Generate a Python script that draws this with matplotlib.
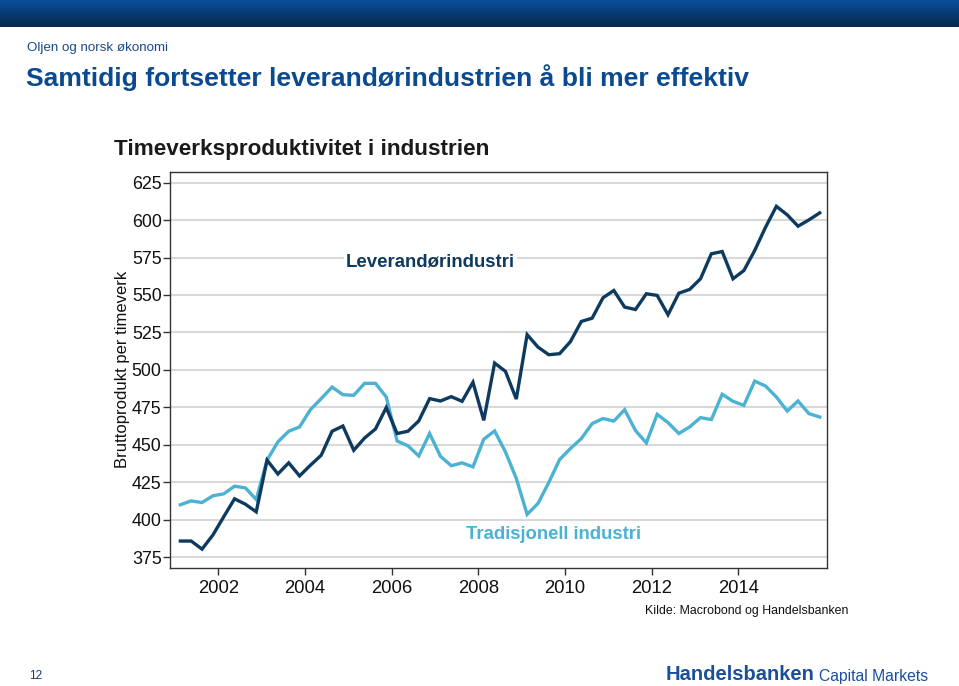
import numpy as np
import matplotlib
matplotlib.use("Agg")
import matplotlib.pyplot as plt
from matplotlib.colors import LinearSegmentedColormap

plt.rcParams['font.family'] = ['Liberation Sans', 'DejaVu Sans']

# ---- data (quarterly, 2001Q1 - 2015Q4) ----
start_year = 2001
n_quarters = 60
leverandor = [385.7, 385.7, 380.3, 389.7, 401.9, 413.9, 410.3, 405.2,
              439.7, 430.5, 437.9, 429.2, 436.3, 443.0, 459.0, 462.5,
              446.3, 454.5, 460.5, 474.8, 457.5, 459.0, 465.9, 480.8,
              479.2, 482.1, 479.0, 491.7, 466.3, 504.5, 499.0, 480.5,
              523.5, 515.2, 510.1, 510.8, 518.9, 532.3, 534.5, 548.1,
              553.0, 541.9, 540.3, 550.8, 549.7, 536.8, 551.2, 553.7,
              560.8, 577.5, 579.0, 560.8, 566.3, 579.7, 595.2, 609.2,
              603.5, 595.9, 600.1, 604.8]
tradisjonell = [409.9, 412.5, 411.4, 415.9, 417.2, 422.3, 421.2, 413.4,
                439.7, 451.9, 459.0, 461.9, 473.4, 480.8, 488.5, 483.4,
                483.0, 491.0, 491.0, 481.9, 452.5, 449.3, 442.5, 457.5,
                442.3, 436.0, 437.9, 435.2, 453.7, 459.2, 445.2, 427.5,
                403.5, 410.8, 424.8, 440.1, 447.5, 454.1, 464.1, 467.5,
                465.8, 473.4, 459.5, 451.2, 470.3, 464.8, 457.5, 461.9,
                468.1, 466.8, 483.7, 479.0, 476.3, 492.5, 489.2, 481.9,
                472.5, 479.2, 470.8, 468.5]
xtick_years = [2002, 2004, 2006, 2008, 2010, 2012, 2014]
ytick_vals = [375, 400, 425, 450, 475, 500, 525, 550, 575, 600, 625]

x = start_year + (np.arange(n_quarters) + 0.5) / 4.0

W, H = 959, 686
fig = plt.figure(figsize=(W / 100, H / 100), dpi=100)
fig.patch.set_facecolor('white')

def px(xp, yp):
    return xp / W, 1 - yp / H

# ---- header band ----
hax = fig.add_axes([0, 1 - 27 / H, 1, 27 / H])
cmap = LinearSegmentedColormap.from_list('hdr', ['#0a4f9c', '#07284c'])
grad = np.linspace(0, 1, 100).reshape(-1, 1)
hax.imshow(grad, aspect='auto', cmap=cmap, extent=[0, 1, 0, 1])
hax.set_axis_off()

# ---- header texts ----
fig.text(*px(27, 48), 'Oljen og norsk økonomi', fontsize=9.6, color='#1a4a8a',
         va='center', ha='left')
fig.text(*px(26, 78), 'Samtidig fortsetter leverandørindustrien å bli mer effektiv',
         fontsize=19.05, fontweight='bold', color='#0b4a8e', va='center', ha='left')
fig.text(*px(114, 150), 'Timeverksproduktivitet i industrien', fontsize=16.2,
         fontweight='bold', color='#1a1a1a', va='center', ha='left')

# ---- main axes ----
left, right, top, bottom = 170, 827.3, 171.7, 567.7
ax = fig.add_axes([left / W, 1 - bottom / H, (right - left) / W, (bottom - top) / H])
ax.plot(x, tradisjonell, color='#4bb2d3', lw=2.4, solid_joinstyle='miter', zorder=3)
ax.plot(x, leverandor, color='#0d3a5e', lw=2.4, solid_joinstyle='miter', zorder=4)

ax.set_xlim(2000.886, 2016.05)
ax.set_ylim(367.9, 632.3)
ax.set_xticks(xtick_years)
ax.set_xticklabels([str(v) for v in xtick_years])
ax.set_yticks(ytick_vals)
ax.set_yticklabels([str(v) for v in ytick_vals])
ax.grid(axis='y', color='#d9d9d9', lw=1.5, zorder=0)
ax.set_axisbelow(True)
for s in ax.spines.values():
    s.set_color('#333333')
    s.set_linewidth(1.0)
ax.tick_params(axis='both', direction='out', length=5, width=1, color='#333333',
               labelcolor='#111111')
ax.tick_params(axis='y', pad=1, labelsize=12.9)
ax.tick_params(axis='x', pad=4, labelsize=13.3)
ax.set_ylabel('Bruttoprodukt per timeverk', fontsize=12, color='#111111', labelpad=1)

ax.text(2004.95, 572, 'Leverandørindustri', fontsize=13.4, fontweight='bold',
        color='#0d3a5e', va='center', ha='left',
        bbox=dict(facecolor='white', edgecolor='none', pad=1.5), zorder=5)
ax.text(2007.72, 390, 'Tradisjonell industri', fontsize=13.3, fontweight='bold',
        color='#4bb2d3', va='center', ha='left',
        bbox=dict(facecolor='white', edgecolor='none', pad=1.5), zorder=5)

# ---- footer ----
fig.text(*px(645, 611), 'Kilde: Macrobond og Handelsbanken', fontsize=8.9,
         color='#111111', va='center', ha='left')
fig.text(*px(29, 676), '12', fontsize=8.5, color='#1a3a6a', va='center', ha='left')
fig.text(*px(666, 675), 'Handelsbanken', fontsize=14.5, fontweight='bold',
         color='#1a4f9c', va='center', ha='left')
fig.text(*px(819, 676), 'Capital Markets', fontsize=11.3, color='#1a4f9c',
         va='center', ha='left')

fig.savefig('out.png', dpi=100)
